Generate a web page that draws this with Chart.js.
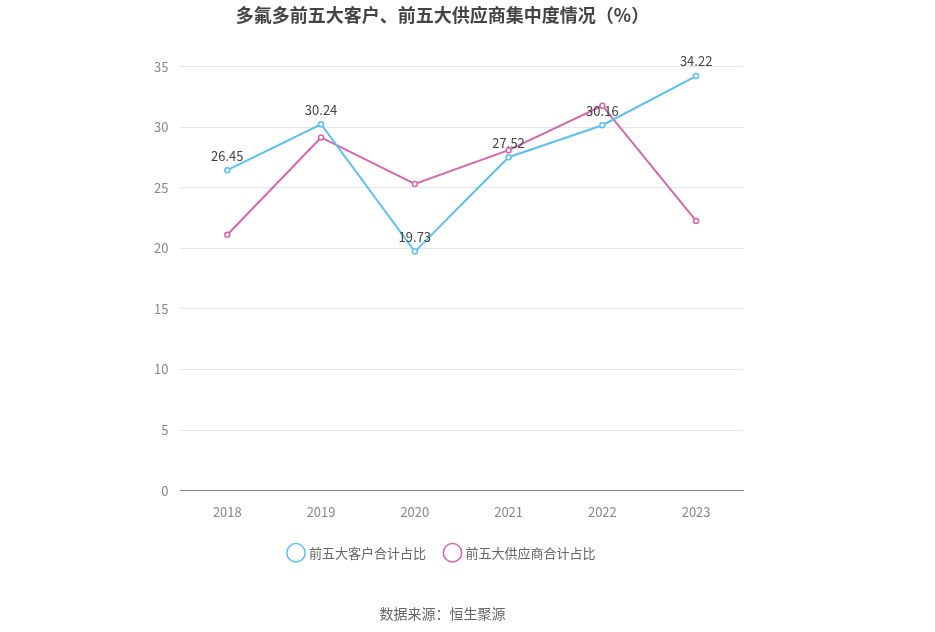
<!DOCTYPE html>
<html><head><meta charset="utf-8">
<script src="https://cdn.jsdelivr.net/npm/chart.js@4/dist/chart.umd.min.js"></script>
<style>html,body{margin:0;padding:0;background:#fff}#w{width:935px;height:632px;position:relative}</style>
</head><body><div id="w"><canvas id="c"></canvas></div>
<script>
const categories=['2018','2019','2020','2021','2022','2023'];
const customers=[26.45,30.24,19.73,27.52,30.16,34.22];
const suppliers=[21.12,29.15,25.31,28.1,31.77,22.26];
const yTicks=[0,5,10,15,20,25,30,35];
const F='"Noto Sans CJK SC","Noto Sans",sans-serif';
const labelPlugin={id:'lbl',afterDatasetsDraw(ch){const ctx=ch.ctx;const m=ch.getDatasetMeta(0);ctx.save();ctx.font='13px '+F;ctx.fillStyle='#444';ctx.textAlign='center';ctx.textBaseline='bottom';
m.data.forEach((p,i)=>ctx.fillText(customers[i].toFixed(2),p.x,p.y-8));ctx.restore();}};
new Chart(document.getElementById('c'),{type:'line',
data:{labels:categories,datasets:[
{label:'前五大客户合计占比',data:customers,borderColor:'#5bc0f5',backgroundColor:'#fff',borderWidth:2,pointRadius:2.5,pointBorderWidth:1.5,pointBackgroundColor:'#fff',pointBorderColor:'#5bc0f5',tension:0},
{label:'前五大供应商合计占比',data:suppliers,borderColor:'#d966ac',backgroundColor:'#fff',borderWidth:2,pointRadius:2.5,pointBorderWidth:1.5,pointBackgroundColor:'#fff',pointBorderColor:'#d966ac',tension:0}]},
options:{responsive:true,maintainAspectRatio:false,animation:false,
layout:{padding:{left:142,right:192,top:0,bottom:0}},
scales:{x:{offset:true,grid:{display:false},border:{color:'#888'},ticks:{color:'#888',font:{size:13,family:F},padding:6}},
y:{min:0,max:35,afterBuildTicks(a){a.ticks=yTicks.map(v=>({value:v}));},grid:{color:'#e3e6ee',drawTicks:false},border:{display:false},ticks:{color:'#888',font:{size:13,family:F},padding:12}}},
plugins:{title:{display:true,text:'多氟多前五大客户、前五大供应商集中度情况（%）',color:'#444',font:{size:18,weight:'bold',family:F},padding:{top:4,bottom:41}},
subtitle:{display:true,position:'bottom',text:'数据来源：恒生聚源',color:'#666',font:{size:14,family:F},padding:{top:36,bottom:10}},
legend:{position:'bottom',labels:{color:'#666',font:{size:13,family:F},usePointStyle:true,pointStyle:'circle',boxWidth:30,padding:20}},
tooltip:{enabled:false}}},
plugins:[labelPlugin]});
</script></body></html>
